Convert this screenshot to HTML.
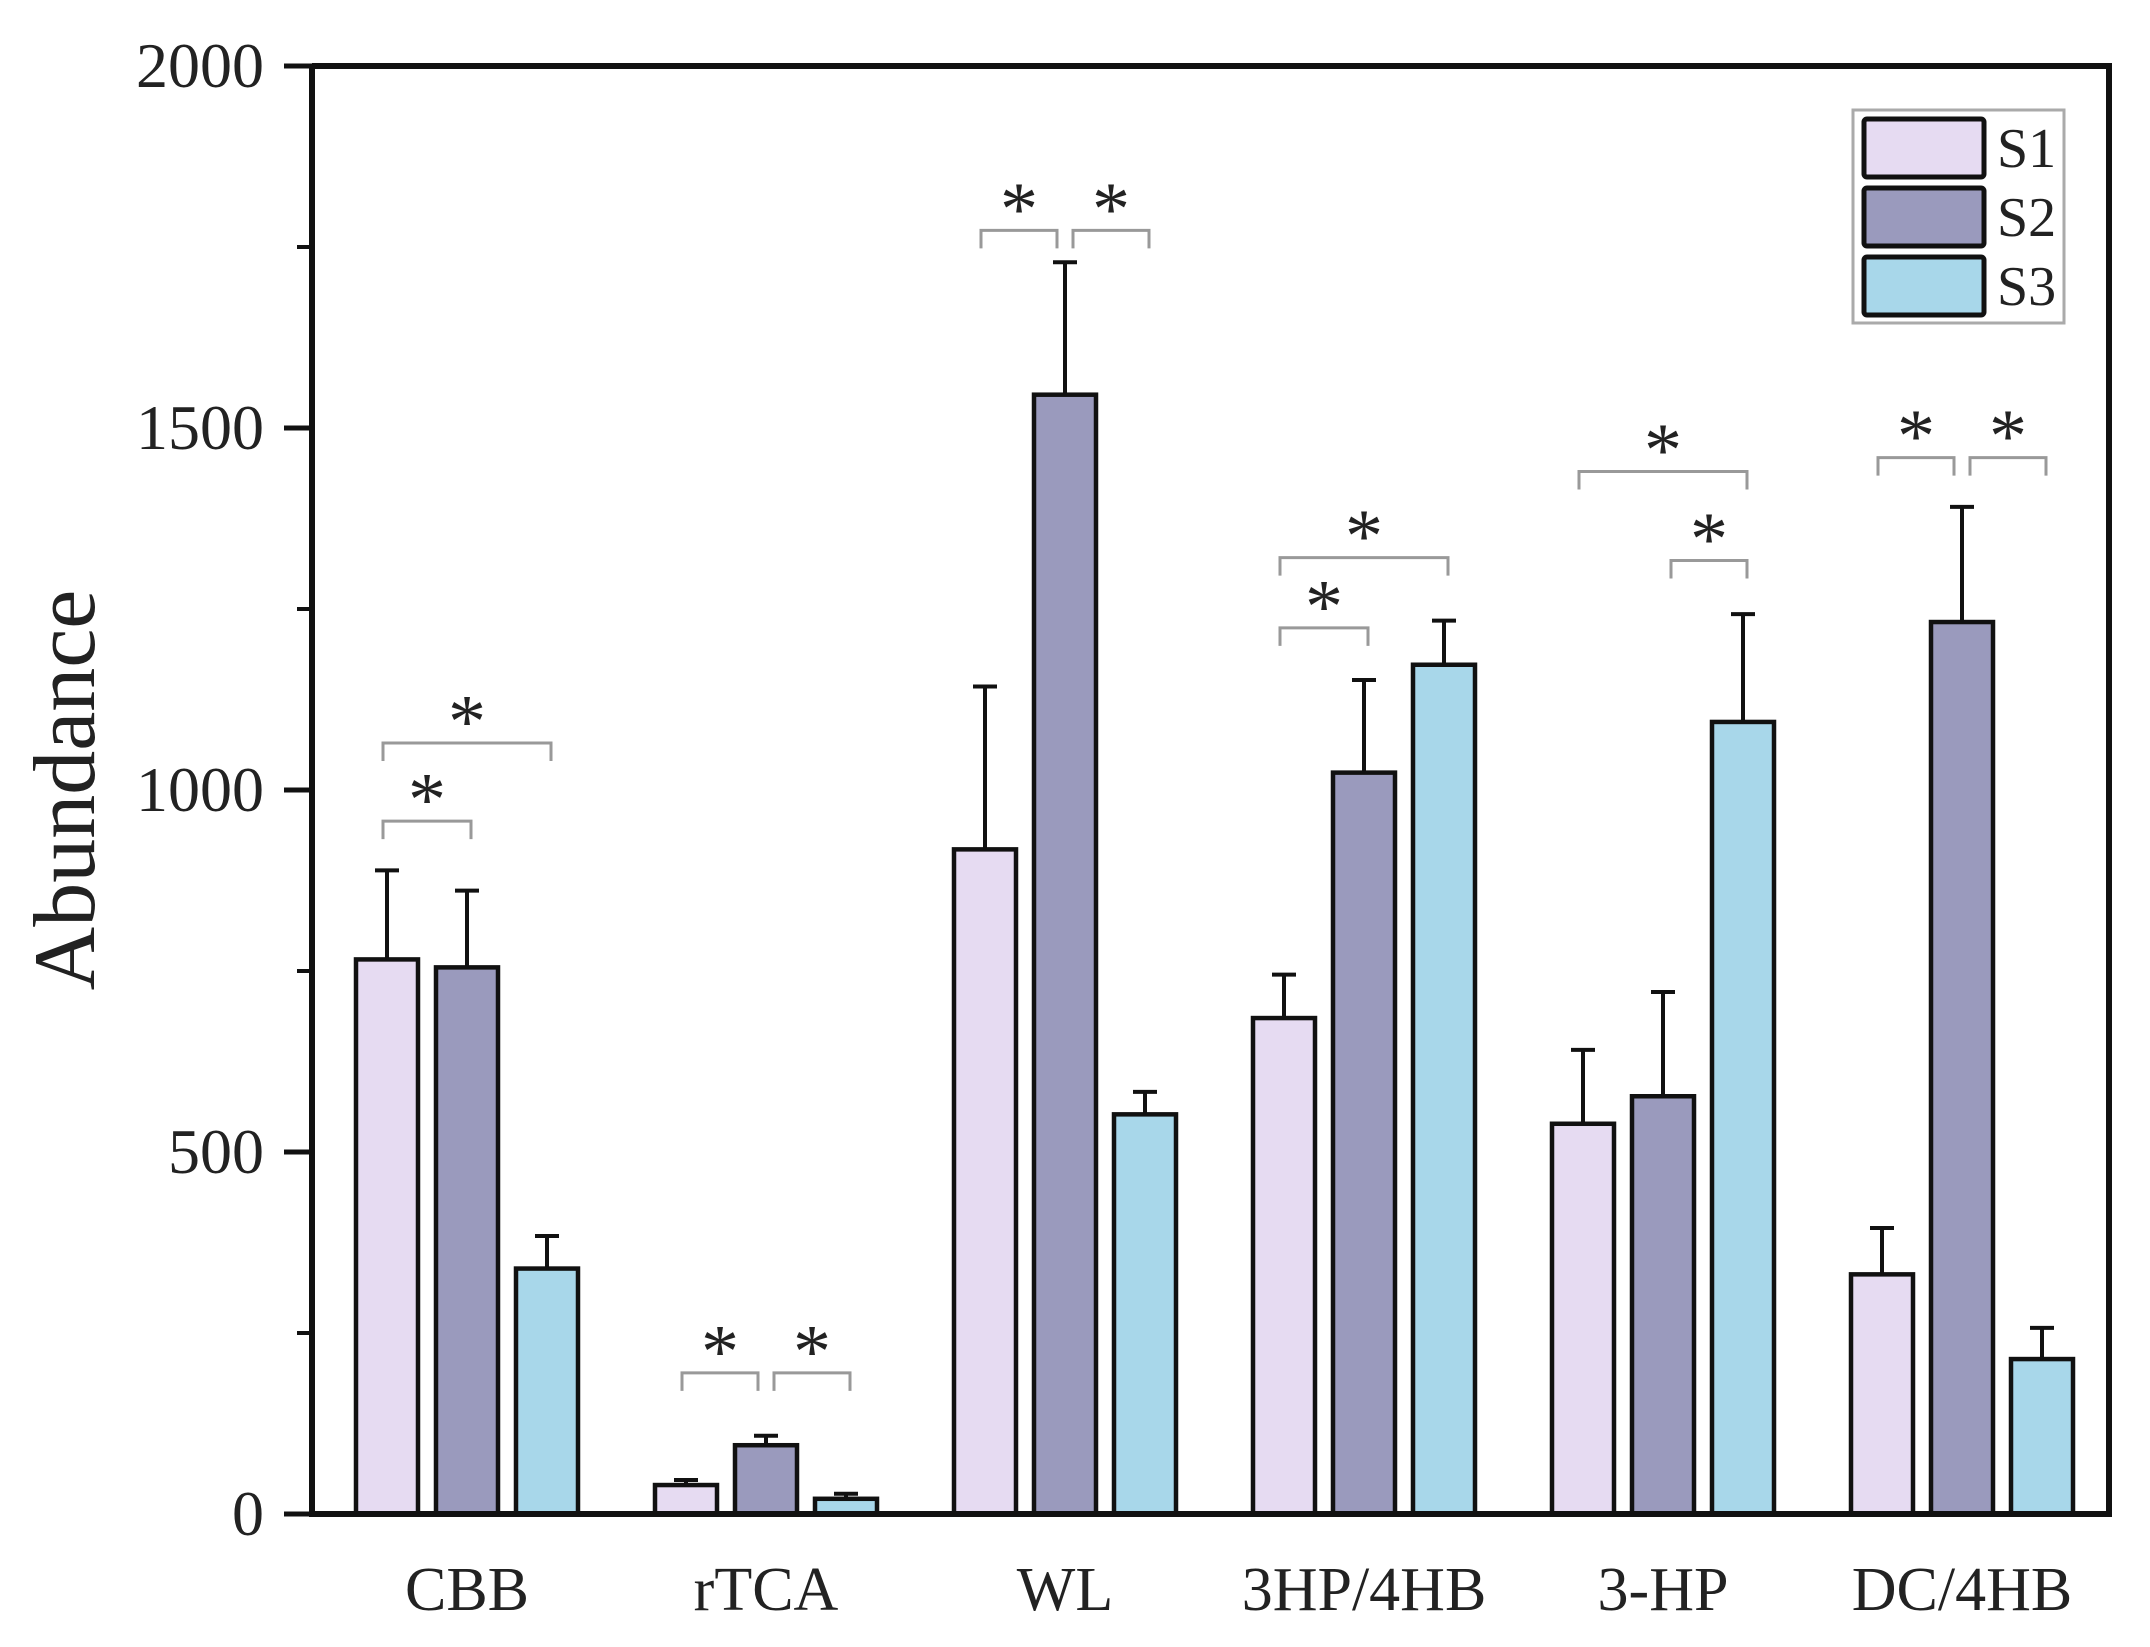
<!DOCTYPE html>
<html><head><meta charset="utf-8"><style>
html,body{margin:0;padding:0;background:#fff}
svg text{font-family:"Liberation Serif",serif;fill:#222}
</style></head><body>
<svg id="chart" width="2150" height="1642" viewBox="0 0 2150 1642" xmlns="http://www.w3.org/2000/svg">
<g id="g"></g>
</svg>
<script>
const categories=["CBB","rTCA","WL","3HP/4HB","3-HP","DC/4HB"];
const seriesNames=["S1","S2","S3"];
const s1Values=[766,40,918,685,539,331];
const s2Values=[755,95,1546,1024,577,1232];
const s3Values=[339,21,552,1173,1094,214];
const s1Err=[889,47,1143,745,641,395];
const s2Err=[861,108,1729,1152,721,1391];
const s3Err=[384,28,583,1234,1243,257];
const yTicks=[0,500,1000,1500,2000];
// brackets: [category index, from series, to series, y value]
const brackets=[[0,0,1,957],[0,0,2,1065],[1,0,1,195],[1,1,2,195],[2,0,1,1773],[2,1,2,1773],[3,0,1,1224],[3,0,2,1321],[4,0,2,1440],[4,1,2,1317],[5,0,1,1459],[5,1,2,1459]];
const colors=["#e6dbf2","#9a9abd","#a8d7ea"];
const NS="http://www.w3.org/2000/svg";
const g=document.getElementById('g');
const X0=312,X1=2109,Y0=1514,YT=66;
const y=v=>Y0-(v/2000)*(Y0-YT);
const groupCenter=i=>467+i*299;
const barCenter=(i,s)=>groupCenter(i)+(s-1)*80;
const BW=62;
function mk(t,a,p){const e=document.createElementNS(NS,t);for(const k in a)e.setAttribute(k,a[k]);(p||g).appendChild(e);return e;}
const seriesVals=[s1Values,s2Values,s3Values],seriesErr=[s1Err,s2Err,s3Err];
categories.forEach((c,i)=>{
  for(let s=0;s<3;s++){
    const cx=barCenter(i,s),v=seriesVals[s][i],ev=seriesErr[s][i];
    const eb=mk('path',{d:`M${cx} ${y(v)}V${y(ev)}M${cx-12} ${y(ev)}H${cx+12}`,stroke:'#111','stroke-width':4,fill:'none'});
    
    
    const r=mk('rect',{x:cx-BW/2,y:y(v),width:BW,height:Y0-y(v),fill:colors[s],stroke:'#111','stroke-width':4.5});
    
    
  }
  const t=mk('text',{x:groupCenter(i),y:1610,'text-anchor':'middle','font-size':62});
  t.textContent=c;
  
  
});
brackets.forEach(b=>{
  const [i,a,z,v]=b;
  let xa=barCenter(i,a)-4,xb=barCenter(i,z)+4;
  if(z-a===1){ if(a===1) xa+=12; else if(brackets.some(o=>o[0]===i&&o[1]===1&&o[3]===v)) xb-=12; }
  const yy=y(v);
  const p=mk('path',{d:`M${xa} ${yy+18}V${yy}H${xb}V${yy+18}`,stroke:'#999','stroke-width':3,fill:'none'});
  
  
  const s=mk('text',{x:(xa+xb)/2,y:yy+4,'text-anchor':'middle','font-size':76,fill:'#333'});
  s.textContent='*';
  
  
});
const ax=mk('path',{d:`M${X0} ${YT}V${Y0}H${X1}V${YT}H${X0}`,stroke:'#111','stroke-width':6,fill:'none'});


yTicks.forEach(v=>{
  const tk=mk('path',{d:`M${X0-28} ${y(v)}H${X0}`,stroke:'#111','stroke-width':5});
  
  
  const t=mk('text',{x:264,y:y(v)+21,'text-anchor':'end','font-size':64});
  t.textContent=v;
  
  
  if(v<2000){const m=mk('path',{d:`M${X0-15} ${y(v+250)}H${X0}`,stroke:'#111','stroke-width':4});
  
  }
});
const yt=mk('text',{x:0,y:0,'text-anchor':'middle','font-size':88,transform:`translate(94 ${(Y0+YT)/2}) rotate(-90)`});
yt.textContent='Abundance';


const lg=mk('rect',{x:1853,y:110,width:211,height:213,fill:'#fff',stroke:'#aaa','stroke-width':3});


seriesNames.forEach((n,s)=>{
  const ry=119+s*69;
  const r=mk('rect',{x:1864,y:ry,width:120,height:58,fill:colors[s],stroke:'#111','stroke-width':5,rx:3});
  
  
  const t=mk('text',{x:1997,y:ry+48,'font-size':56});
  t.textContent=n;
  
  
});
</script>
</body></html>
